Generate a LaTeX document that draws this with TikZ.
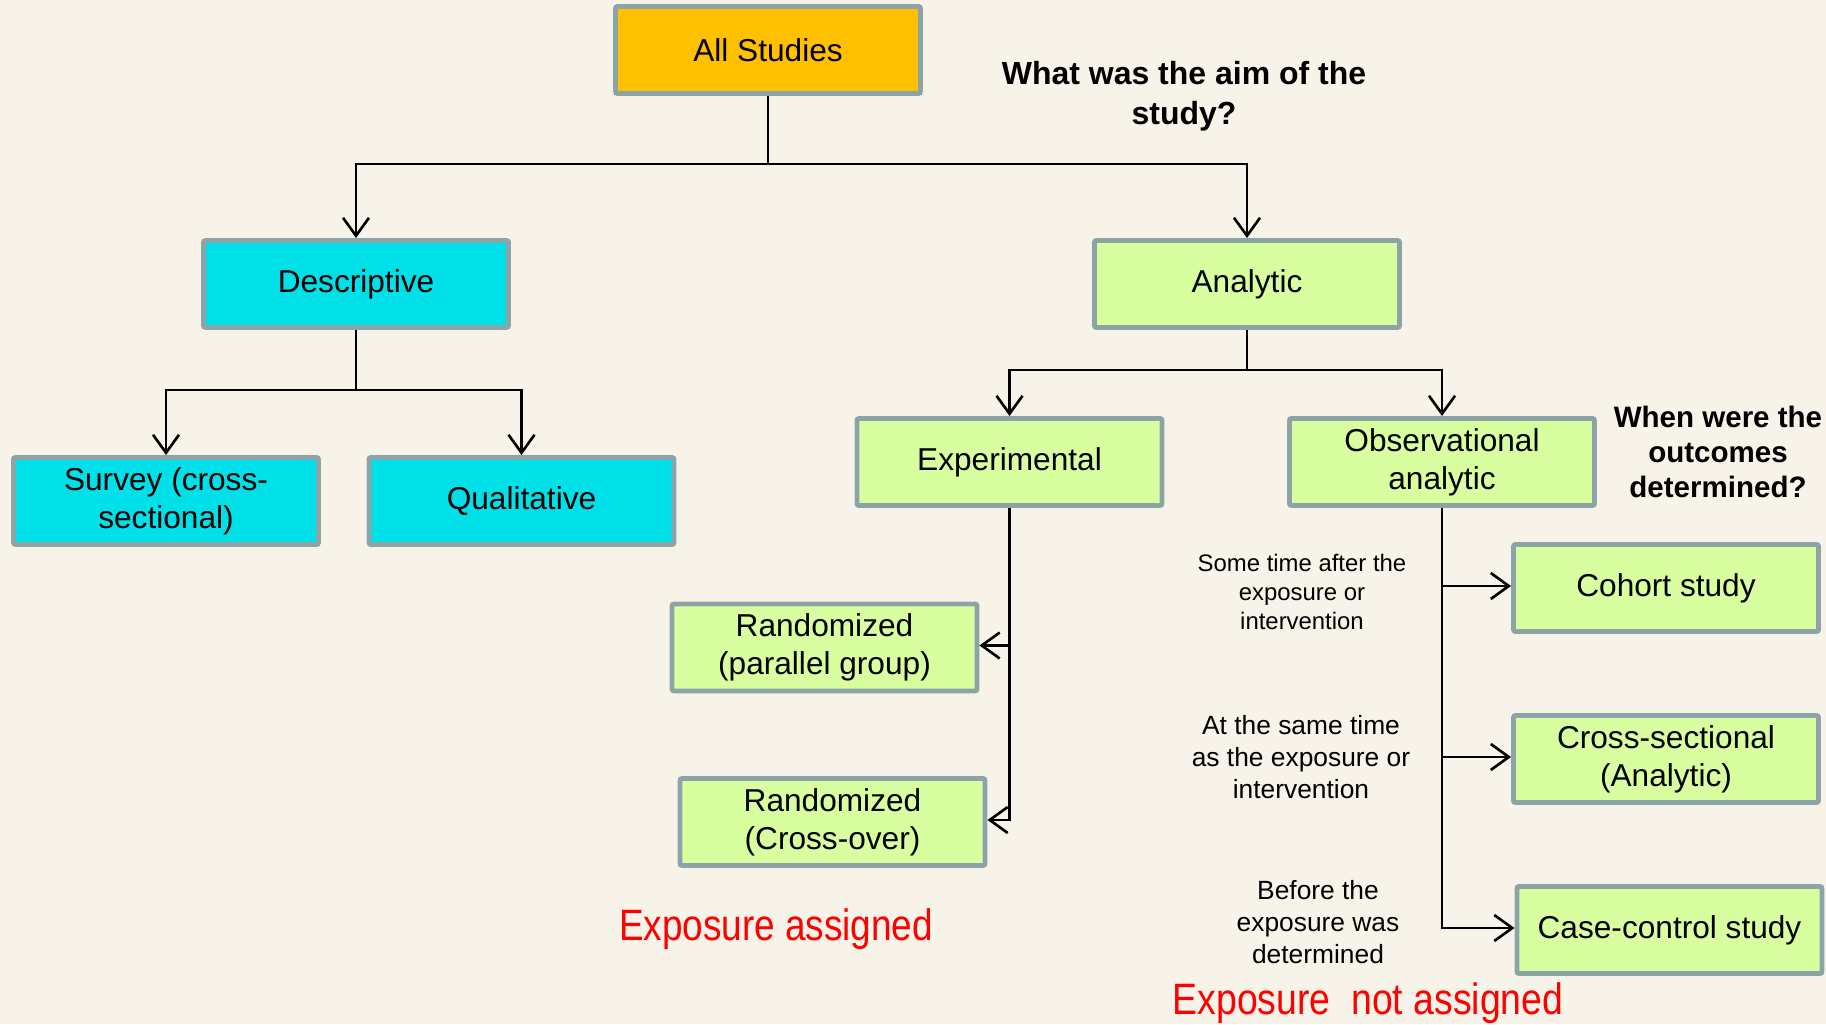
\documentclass[tikz,border=0pt]{standalone}
\usepackage{fontspec}
\setmainfont{Liberation Sans}
\usepackage{graphicx}
\usepackage{xcolor}
\usetikzlibrary{arrows.meta,positioning,calc}
\definecolor{bgcream}{HTML}{F7F3E9}
\definecolor{boxedge}{HTML}{8CA4A8}
\definecolor{allyellow}{HTML}{FFC000}
\definecolor{desccyan}{HTML}{00E0E8}
\definecolor{analime}{HTML}{D9FE9F}

\begin{document}
\begin{tikzpicture}[
    box/.style={draw=boxedge, line width=1.4pt, rounded corners=0.6pt,
      minimum width=3.05cm, minimum height=0.87cm, inner sep=1pt,
      align=center, font=\fontsize{9}{10.9}\selectfont},
    yellowbox/.style={box, fill=allyellow},
    cyanbox/.style={box, fill=desccyan},
    limebox/.style={box, fill=analime},
    link/.style={line width=0.75pt},
    arrowlink/.style={link, -{Straight Barb[length=1.8mm,width=2.6mm]}},
    question/.style={align=center, font=\bfseries\fontsize{9.1}{11.3}\selectfont},
    timing/.style={align=center, font=\fontsize{7.5}{9.1}\selectfont},
    redlabel/.style={text=red, inner sep=0pt, font=\fontsize{12.5}{14}\selectfont}
  ]
  % background and page size
  \fill[bgcream] (0,0) rectangle (18.26,10.24);
  \useasboundingbox (0,0) rectangle (18.26,10.24);

  % boxes
  \node[yellowbox] (all) at (7.68,9.74) {All Studies};
  \node[cyanbox] (desc) at (3.56,7.40) {Descriptive};
  \node[limebox] (analytic) at (12.47,7.40) {Analytic};
  \node[cyanbox] (survey) at (1.66,5.23) {Survey (cross-\\sectional)};
  \node[cyanbox] (qual) at (5.215,5.23) {Qualitative};
  \node[limebox] (exper) at (10.095,5.62) {Experimental};
  \node[limebox] (obs) at (14.42,5.62) {Observational\\analytic};
  \node[limebox] (randpar) at (8.245,3.765) {Randomized\\(parallel group)};
  \node[limebox] (randcross) at (8.325,2.02) {Randomized\\(Cross-over)};
  \node[limebox] (cohort) at (16.66,4.36) {Cohort study};
  \node[limebox] (crosssec) at (16.66,2.65) {Cross-sectional\\(Analytic)};
  \node[limebox] (casectrl) at (16.695,0.94) {Case-control study};

  % forks
  \coordinate (topfork) at (7.68,8.60);
  \coordinate (descfork) at (3.56,6.34);
  \coordinate (anafork) at (12.47,6.54);

  \draw[link] (all) -- (topfork);
  \draw[arrowlink] (topfork) -| (desc);
  \draw[arrowlink] (topfork) -| (analytic);

  \draw[link] (desc) -- (descfork);
  \draw[arrowlink] (descfork) -| (survey);
  \draw[arrowlink] (descfork) -| (qual);

  \draw[link] (analytic) -- (anafork);
  \draw[arrowlink] (anafork) -| (exper);
  \draw[arrowlink] (anafork) -| (obs);

  \draw[arrowlink] (exper.south) |- ([yshift=0.02cm]randpar.east);
  \draw[arrowlink] (exper.south) |- ([yshift=0.02cm]randcross.east);

  \draw[arrowlink] (obs.south) |- ([yshift=0.02cm]cohort.west);
  \draw[arrowlink] (obs.south) |- ([yshift=0.02cm]crosssec.west);
  \draw[arrowlink] (obs.south) |- ([yshift=0.02cm]casectrl.west);

  % questions and timing notes
  \node[question] (aim) at (11.84,9.28) {What was the aim of the\\study?};
  \node[question, font=\bfseries\fontsize{8.4}{10}\selectfont] (when) at (17.18,5.72) {When were the\\outcomes\\determined?};
  \node[timing, font=\fontsize{6.8}{8.3}\selectfont] (later) at (13.02,4.32) {Some time after the\\exposure or\\intervention};
  \node[timing] (sametime) at (13.01,2.67) {At the same time\\as the exposure or\\intervention};
  \node[timing] (before) at (13.18,1.02) {Before the\\exposure was\\determined};

  % red captions
  \node[redlabel] (assigned) at (7.76,0.95) {\scalebox{0.84}[1]{Exposure assigned}};
  \node[redlabel] (notassigned) at (13.68,0.21) {\scalebox{0.85}[1]{Exposure\ \ not assigned}};
\end{tikzpicture}
\end{document}
